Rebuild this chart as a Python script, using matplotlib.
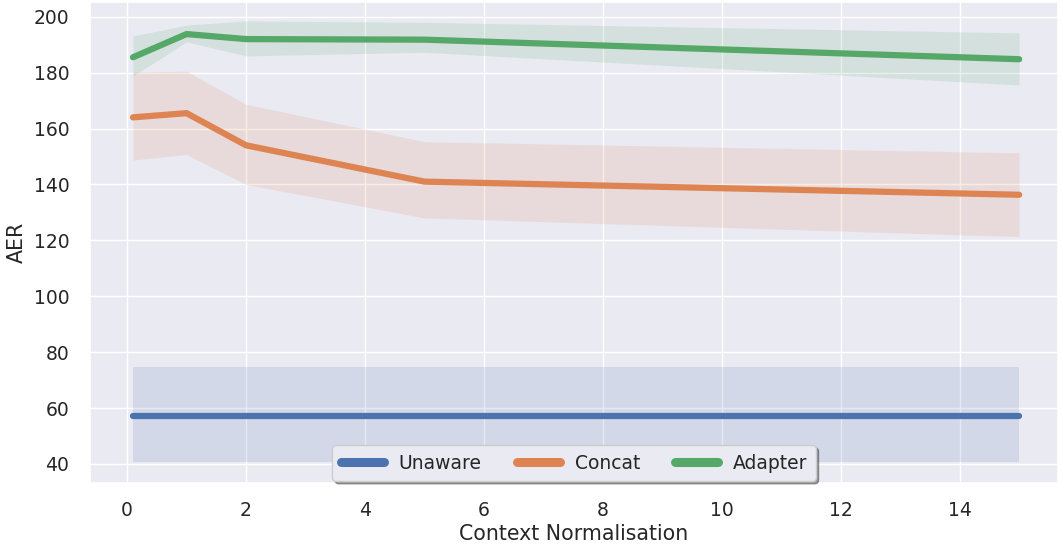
import numpy as np
import matplotlib
matplotlib.use("Agg")
import matplotlib.pyplot as plt
import seaborn as sns

sns.set_theme(style="darkgrid")

# context normalisation values
x = [0.1, 1, 2, 5, 15]

unaware = [57, 57, 57, 57, 57]
unaware_lo = [40.5, 40.5, 40.5, 40.5, 40.5]
unaware_hi = [74.5, 74.5, 74.5, 74.5, 74.5]

concat = [164, 165.5, 154, 141, 136.3]
concat_lo = [148.7, 150.7, 140, 128, 121.3]
concat_hi = [180.2, 180.5, 168.7, 155.3, 151.3]

adapter = [185.5, 193.8, 192, 191.8, 184.8]
adapter_lo = [178.8, 191, 186, 187.3, 175.6]
adapter_hi = [193.1, 197, 198.5, 198, 194.2]

series = [
    ("Unaware", unaware, unaware_lo, unaware_hi, "C0"),
    ("Concat", concat, concat_lo, concat_hi, "C1"),
    ("Adapter", adapter, adapter_lo, adapter_hi, "C2"),
]

fig, ax = plt.subplots(figsize=(10.61, 5.5), dpi=100)

for name, y, lo, hi, c in series:
    ax.plot(x, y, color=c, lw=4.5, label=name, solid_capstyle="round")
    ax.fill_between(x, lo, hi, color=c, alpha=0.15, lw=0)

ax.set_xlabel("Context Normalisation", fontsize=14.8, labelpad=3)
ax.set_ylabel("AER", fontsize=14.8, labelpad=5)
ax.set_ylim(33.2, 205.4)
ax.set_xlim(-0.62, 15.65)
ax.set_yticks(np.arange(40, 201, 20))
ax.set_xticks(np.arange(0, 15, 2))
ax.tick_params(labelsize=13.5)
ax.tick_params(axis="y", pad=9)
ax.tick_params(axis="x", pad=7)

leg = ax.legend(loc="lower center", ncol=3, shadow=True, frameon=True,
                fontsize=13.5, borderaxespad=0.1, handlelength=2.3,
                columnspacing=1.85, borderpad=0.45)
for h in leg.get_lines():
    h.set_linewidth(6.5)
    h.set_solid_capstyle("round")

plt.subplots_adjust(left=0.085, right=0.997, top=0.997, bottom=0.122)
plt.savefig("out.png", dpi=100)
